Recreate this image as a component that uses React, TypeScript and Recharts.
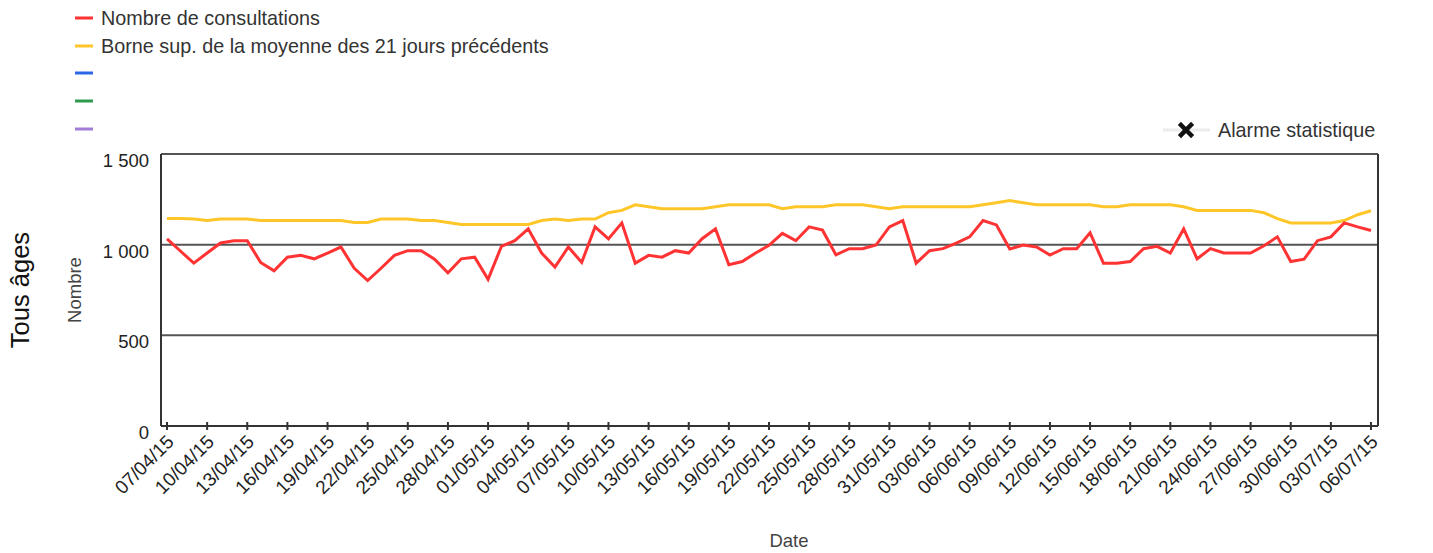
import React from 'react';
import { LineChart, Line, XAxis, YAxis, CartesianGrid } from 'recharts';

const dates = [
  '07/04/15','08/04/15','09/04/15','10/04/15','11/04/15','12/04/15','13/04/15','14/04/15','15/04/15','16/04/15',
  '17/04/15','18/04/15','19/04/15','20/04/15','21/04/15','22/04/15','23/04/15','24/04/15','25/04/15','26/04/15',
  '27/04/15','28/04/15','29/04/15','30/04/15','01/05/15','02/05/15','03/05/15','04/05/15','05/05/15','06/05/15',
  '07/05/15','08/05/15','09/05/15','10/05/15','11/05/15','12/05/15','13/05/15','14/05/15','15/05/15','16/05/15',
  '17/05/15','18/05/15','19/05/15','20/05/15','21/05/15','22/05/15','23/05/15','24/05/15','25/05/15','26/05/15',
  '27/05/15','28/05/15','29/05/15','30/05/15','31/05/15','01/06/15','02/06/15','03/06/15','04/06/15','05/06/15',
  '06/06/15','07/06/15','08/06/15','09/06/15','10/06/15','11/06/15','12/06/15','13/06/15','14/06/15','15/06/15',
  '16/06/15','17/06/15','18/06/15','19/06/15','20/06/15','21/06/15','22/06/15','23/06/15','24/06/15','25/06/15',
  '26/06/15','27/06/15','28/06/15','29/06/15','30/06/15','01/07/15','02/07/15','03/07/15','04/07/15','05/07/15',
  '06/07/15',
];

const consultations = [
  1032, 965, 898, 954, 1009, 1022, 1022, 902, 856, 931,
  941, 922, 954, 987, 870, 802, 870, 941, 967, 967,
  920, 845, 922, 931, 809, 991, 1022, 1087, 954, 876,
  987, 902, 1098, 1032, 1120, 898, 941, 931, 967, 954,
  1033, 1087, 889, 907, 954, 996, 1062, 1022, 1098, 1080,
  944, 978, 978, 998, 1098, 1133, 898, 967, 978, 1009,
  1043, 1133, 1109, 976, 998, 987, 943, 978, 978, 1065,
  898, 898, 907, 978, 991, 954, 1087, 922, 978, 954,
  954, 954, 994, 1043, 907, 920, 1022, 1043, 1120, 1098,
  1078,
];

const borneSup = [
  1144, 1144, 1141, 1133, 1141, 1141, 1141, 1133, 1133, 1133,
  1133, 1133, 1133, 1133, 1122, 1122, 1141, 1141, 1141, 1133,
  1133, 1122, 1111, 1111, 1111, 1111, 1111, 1111, 1133, 1141,
  1133, 1141, 1141, 1176, 1189, 1220, 1209, 1198, 1198, 1198,
  1198, 1209, 1220, 1220, 1220, 1220, 1198, 1209, 1209, 1209,
  1220, 1220, 1220, 1209, 1198, 1209, 1209, 1209, 1209, 1209,
  1209, 1220, 1231, 1243, 1231, 1220, 1220, 1220, 1220, 1220,
  1209, 1209, 1220, 1220, 1220, 1220, 1209, 1189, 1189, 1189,
  1189, 1189, 1176, 1144, 1120, 1120, 1120, 1120, 1133, 1165,
  1187,
];

const leftTicks = [0, 500, 1000, 1500];
const rightTicks = [0, 0.4, 0.8, 1.2];

const legendItems = [
  { label: 'Nombre de consultations', color: '#ff3333' },
  { label: 'Borne sup. de la moyenne des 21 jours précédents', color: '#ffc629' },
  { label: '', color: '#2a66e6' },
  { label: '', color: '#2f9a4c' },
  { label: '', color: '#a27ad9' },
];
const alarmLabel = 'Alarme statistique';

const data = dates.map((d, i) => ({ date: d, consultations: consultations[i], borne: borneSup[i] }));

const FONT = '"Liberation Sans", Arial, sans-serif';

const fmtLeft = (v: number) => (v >= 1000 ? `${Math.floor(v / 1000)} ${String(v % 1000).padStart(3, '0')}` : String(v));
const fmtRight = (v: number) => String(v).replace('.', ',');

const XTick = (props: any) => {
  const { x, y, payload } = props;
  const tx = x + 8;
  const ty = y + 17;
  return (
    <g>
      <line x1={x} x2={x} y1={y - 4} y2={y + 4} stroke="#333" strokeWidth={2} />
      <text x={tx} y={ty} transform={`rotate(-45 ${tx} ${ty})`} textAnchor="end" fontSize={19} fill="#222" fontFamily={FONT}>
        {payload.value}
      </text>
    </g>
  );
};

const LeftTick = (props: any) => {
  const { x, y, payload } = props;
  return (
    <text x={x - 12} y={y + 13} textAnchor="end" fontSize={18.5} fill="#222" fontFamily={FONT}>
      {fmtLeft(payload.value)}
    </text>
  );
};

const RightTick = (props: any) => {
  const { x, y, payload } = props;
  return (
    <text x={x + 11} y={y + 13} textAnchor="start" fontSize={18.5} fill="#222" fontFamily={FONT}>
      {fmtRight(payload.value)}
    </text>
  );
};

const LeftLabel = (props: any) => {
  const vb = props.viewBox || { x: 0, y: 154, width: 161, height: 272 };
  const cy = vb.y + vb.height / 2;
  return (
    <g>
      <text x={20} y={cy} transform={`rotate(-90 20 ${cy})`} textAnchor="middle" dominantBaseline="central" fontSize={25.5} fill="#111" fontFamily={FONT}>
        Tous âges
      </text>
      <text x={74} y={cy} transform={`rotate(-90 74 ${cy})`} textAnchor="middle" dominantBaseline="central" fontSize={18.5} fill="#444" fontFamily={FONT}>
        Nombre
      </text>
    </g>
  );
};

const DateLabel = (props: any) => {
  const vb = props.viewBox || { x: 161, y: 426, width: 1217, height: 127 };
  return (
    <text x={789} y={vb.y + 121} textAnchor="middle" fontSize={18.5} fill="#444" fontFamily={FONT}>
      Date
    </text>
  );
};

export default function App() {
  const rowY = [18, 46, 73, 101, 129];
  return (
    <div style={{ position: 'absolute', left: 0, top: 0, width: 1433, height: 553, background: '#fff' }}>
      <LineChart width={1433} height={553} data={data} margin={{ top: 154, right: 0, bottom: 0, left: 0 }}>
        <CartesianGrid yAxisId="left" vertical={false} stroke="#555" strokeWidth={2} />
        <XAxis
          dataKey="date"
          interval={2}
          height={127}
          padding={{ left: 6, right: 7 }}
          tickSize={0}
          tickMargin={0}
          tickLine={false}
          axisLine={{ stroke: '#333', strokeWidth: 2 }}
          tick={<XTick />}
          label={<DateLabel />}
        />
        <YAxis
          yAxisId="left"
          orientation="left"
          width={161}
          domain={[0, 1500]}
          ticks={leftTicks}
          interval={0}
          tickSize={0}
          tickMargin={0}
          tickLine={false}
          axisLine={{ stroke: '#333', strokeWidth: 2 }}
          tick={<LeftTick />}
          label={<LeftLabel />}
        />
        <YAxis
          yAxisId="right"
          orientation="right"
          width={55}
          domain={[0, 1.2]}
          ticks={rightTicks}
          interval={0}
          tickSize={0}
          tickMargin={0}
          tickLine={false}
          axisLine={{ stroke: '#333', strokeWidth: 2 }}
          tick={<RightTick />}
        />
        <Line yAxisId="left" type="linear" dataKey="borne" stroke="#ffc629" strokeWidth={3} dot={false} isAnimationActive={false} />
        <Line yAxisId="left" type="linear" dataKey="consultations" stroke="#ff3333" strokeWidth={3} dot={false} isAnimationActive={false} />
      </LineChart>
      <svg width={1433} height={150} style={{ position: 'absolute', left: 0, top: 0, pointerEvents: 'none' }}>
        {legendItems.map((it, i) => (
          <g key={i}>
            <line x1={75} x2={93} y1={rowY[i]} y2={rowY[i]} stroke={it.color} strokeWidth={3} />
            {it.label ? (
              <text x={101} y={rowY[i] + 7} fontSize={19.8} fill="#333" fontFamily={FONT}>
                {it.label}
              </text>
            ) : null}
          </g>
        ))}
        <line x1={1163} x2={1210} y1={130} y2={130} stroke="#ececec" strokeWidth={3} />
        <path d="M1181 125 L1191 135 M1191 125 L1181 135" stroke="#111" strokeWidth={4.5} strokeLinecap="square" />
        <text x={1218} y={137} fontSize={19.8} fill="#333" fontFamily={FONT}>
          {alarmLabel}
        </text>
      </svg>
    </div>
  );
}
